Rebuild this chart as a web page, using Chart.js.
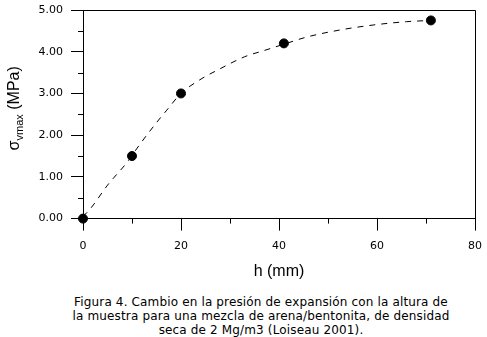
<!DOCTYPE html>
<html>
<head>
<meta charset="utf-8">
<script src="https://cdn.jsdelivr.net/npm/chart.js@4.4.1/dist/chart.umd.min.js"></script>
<style>
  html, body { margin: 0; padding: 0; background: #fff; }
  #wrap { position: relative; width: 487px; height: 337px; }
  #box { position: absolute; left: 0; top: 0; width: 487px; height: 281px; }
  #caption {
    position: absolute; left: 0; top: 295px; width: 560px; margin-left: -19px;
    text-align: center; font-family: "DejaVu Sans", Verdana, sans-serif;
    font-size: 12px; letter-spacing: 0.15px; line-height: 14px; color: #000;
  }
</style>
</head>
<body>
<div id="wrap">
  <div id="box"><canvas id="grafico"></canvas></div>
  <div id="caption">Figura 4. Cambio en la presión de expansión con la altura de<br>la muestra para una mezcla de arena/bentonita, de densidad<br>seca de 2 Mg/m3 (Loiseau 2001).</div>
</div>
<script>
document.addEventListener("DOMContentLoaded", () => {

    // medidos (puntos negros)
    const alturas = [0, 10, 20, 41, 71];
    const presiones = [0, 1.5, 3.0, 4.2, 4.75];

    // curva de ajuste (discontinua)
    const curvaH = [0, 1.6, 5, 9, 11.6, 15, 17.1, 20, 24.3, 27.3, 33, 37, 41, 45.6, 52.4, 59.2, 66, 71];
    const curvaP = [0.05, 0.25, 0.8, 1.35, 1.78, 2.3, 2.6, 3.0, 3.36, 3.55, 3.88, 4.03, 4.18, 4.35, 4.52, 4.64, 4.72, 4.75];

    const menoresX = [10, 30, 50, 70];
    const menoresY = [0.5, 1.5, 2.5, 3.5, 4.5];

    const fuenteTicks = { family: "DejaVu Sans", size: 11 };

    // marco, ticks menores y titulo del eje Y con subindice
    const marcoPlugin = {
        id: "marco",
        afterDraw(chart) {
            const { ctx, chartArea: a, scales } = chart;
            ctx.save();
            ctx.strokeStyle = "#000";
            ctx.lineWidth = 1;
            ctx.beginPath();
            ctx.moveTo(a.left, a.top + 0.5);
            ctx.lineTo(a.right + 0.5, a.top + 0.5);
            ctx.lineTo(a.right + 0.5, a.bottom);
            ctx.stroke();

            ctx.beginPath();
            menoresX.forEach(v => {
                const px = Math.round(scales.x.getPixelForValue(v)) + 0.5;
                ctx.moveTo(px, a.bottom);
                ctx.lineTo(px, a.bottom + 5);
            });
            menoresY.forEach(v => {
                const py = Math.round(scales.y.getPixelForValue(v)) + 0.5;
                ctx.moveTo(a.left, py);
                ctx.lineTo(a.left - 5, py);
            });
            ctx.stroke();

            // titulo eje Y: σvmax (MPa)
            const cx = 15, cy = (a.top + a.bottom) / 2 - 6;
            ctx.translate(cx, cy);
            ctx.rotate(-Math.PI / 2);
            ctx.fillStyle = "#000";
            ctx.textBaseline = "middle";
            const fGrande = "16px 'Liberation Sans', Arial, sans-serif";
            const fChica = "11px 'Liberation Sans', Arial, sans-serif";
            ctx.font = fGrande;
            const w1 = ctx.measureText("σ").width;
            const w3 = ctx.measureText(" (MPa)").width;
            ctx.font = fChica;
            const w2 = ctx.measureText("vmax").width;
            let x = -(w1 + w2 + w3) / 2;
            ctx.font = fGrande;
            ctx.fillText("σ", x, 0);
            x += w1;
            ctx.font = fChica;
            ctx.fillText("vmax", x, 5);
            x += w2;
            ctx.font = fGrande;
            ctx.fillText(" (MPa)", x, 0);
            ctx.restore();
        }
    };

    new Chart(document.getElementById("grafico"), {
        type: "scatter",
        data: {
            datasets: [
                {
                    label: "ajuste",
                    data: curvaH.map((h, i) => ({ x: h, y: curvaP[i] })),
                    showLine: true,
                    borderColor: "#000",
                    borderWidth: 1,
                    borderDash: [6, 6],
                    pointRadius: 0,
                    cubicInterpolationMode: "monotone"
                },
                {
                    label: "medidos",
                    data: alturas.map((h, i) => ({ x: h, y: presiones[i] })),
                    showLine: false,
                    pointRadius: 4.5,
                    pointBorderWidth: 1,
                    pointBackgroundColor: "#000",
                    pointBorderColor: "#000",
                    clip: false
                }
            ]
        },
        options: {
            responsive: true,
            maintainAspectRatio: false,
            animation: false,
            layout: { padding: { left: 10, right: 12, top: 10, bottom: 0 } },
            plugins: {
                legend: { display: false },
                tooltip: { enabled: false }
            },
            scales: {
                x: {
                    type: "linear",
                    min: 0,
                    max: 80,
                    afterFit: s => { s.paddingLeft = 0; s.paddingRight = 0; },
                    border: { display: true, color: "#000", width: 1 },
                    grid: { drawOnChartArea: false, drawTicks: true, tickLength: 12, tickColor: "#000" },
                    ticks: { stepSize: 20, color: "#000", font: fuenteTicks, padding: 9 },
                    title: {
                        display: true,
                        text: "h (mm)",
                        color: "#000",
                        font: { family: "Liberation Sans", size: 16 },
                        padding: { top: 0, bottom: 0 }
                    }
                },
                y: {
                    min: 0,
                    max: 5,
                    afterFit: s => { s.width = 73; s.paddingTop = 0; s.paddingBottom = 0; },
                    border: { display: true, color: "#000", width: 1 },
                    grid: { drawOnChartArea: false, drawTicks: true, tickLength: 12, tickColor: "#000" },
                    ticks: {
                        stepSize: 1,
                        color: "#000",
                        font: fuenteTicks,
                        padding: 8,
                        callback: v => v.toFixed(2)
                    }
                }
            }
        },
        plugins: [marcoPlugin]
    });
});
</script>
</body>
</html>
